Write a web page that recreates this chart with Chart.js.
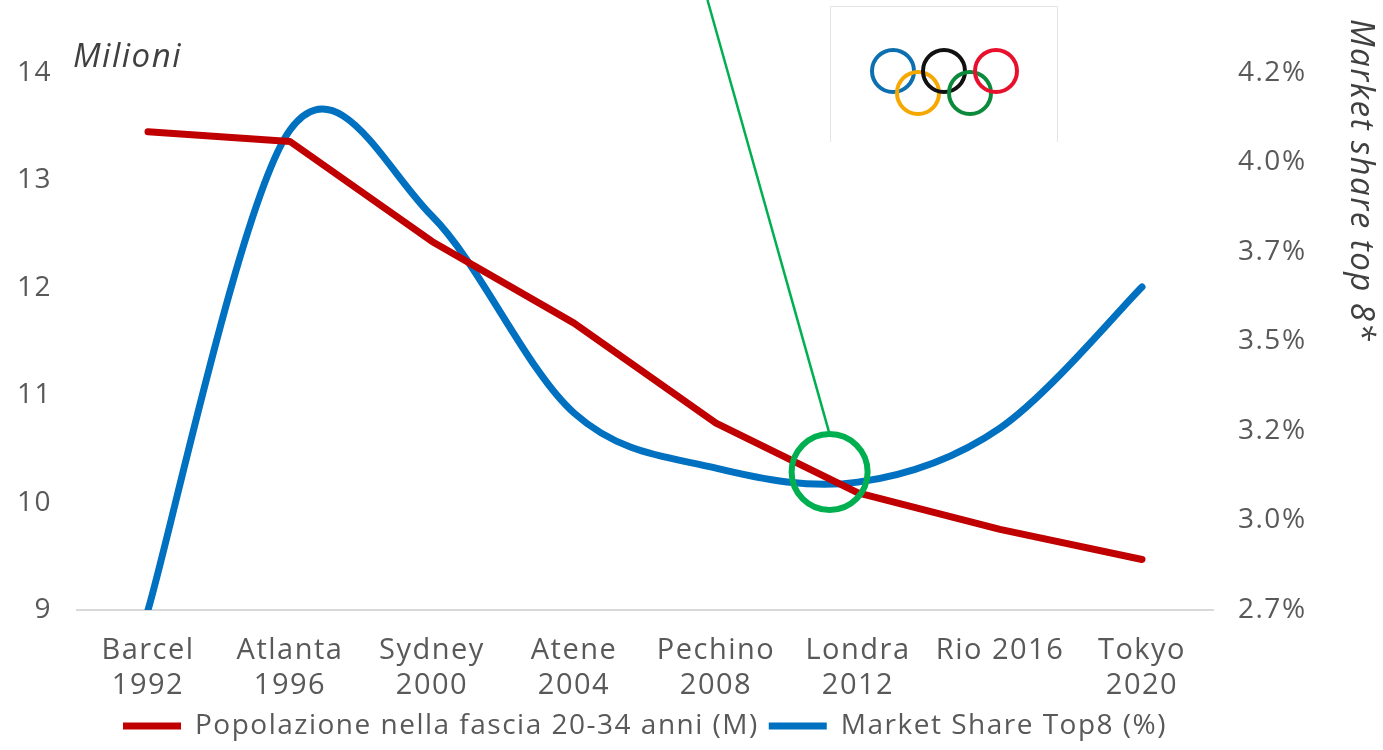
<!DOCTYPE html>
<html><head><meta charset="utf-8">
<script src="https://cdn.jsdelivr.net/npm/chart.js@4.4.1/dist/chart.umd.min.js"></script>
<style>html,body{margin:0;padding:0;background:#fff;overflow:hidden}#wrap{width:1383px;height:750px;position:relative}</style>
</head><body><div id="wrap"><canvas id="c" width="1383" height="750"></canvas></div>
<script>
const categories = [['Barcel','1992'],['Atlanta','1996'],['Sydney','2000'],['Atene','2004'],['Pechino','2008'],['Londra','2012'],'Rio 2016',['Tokyo','2020']];
const popolazione = [13.45, 13.36, 12.43, 11.67, 10.74, 10.09, 9.75, 9.47];
const marketShare = [2.75, 4.09, 3.85, 3.30, 3.146, 3.107, 3.258, 3.652];
const leftTicks = [9, 10, 11, 12, 13, 14];
const rightTickValues = [2.75, 3.0, 3.25, 3.5, 3.75, 4.0, 4.25];
const rightTickLabels = ['2.7%', '3.0%', '3.2%', '3.5%', '3.7%', '4.0%', '4.2%'];
const seriesNames = ['Popolazione nella fascia 20-34 anni (M)', 'Market Share Top8 (%)'];
const highlight = {index: 4.8, value: 3.135, lineTopIndex: 3.94};

const FONT = "'Open Sans', sans-serif";
const TXT = '#595959';
const SPACING = '1.5px';

const spacingPlugin = {
  id: 'spacing',
  beforeUpdate(chart) { chart.ctx.letterSpacing = SPACING; },
  beforeDraw(chart) { chart.ctx.letterSpacing = SPACING; }
};

// Excel-style smoothing: Catmull-Rom control points on the library's own point positions
const excelSmooth = {
  id: 'excelSmooth',
  beforeDatasetDraw(chart, args) {
    const ds = chart.data.datasets[args.index];
    if (!ds.smoothExcel) return;
    const meta = args.meta;
    const line = meta.dataset;
    line.updateControlPoints(chart.chartArea, 'x');
    const pts = meta.data, n = pts.length;
    for (let i = 0; i < n; i++) {
      const p = pts[i];
      const prev = pts[Math.max(i - 1, 0)], next = pts[Math.min(i + 1, n - 1)];
      const tx = (next.x - prev.x) / 6, ty = (next.y - prev.y) / 6;
      p.cp1x = p.x - tx; p.cp1y = p.y - ty; p.cp2x = p.x + tx; p.cp2y = p.y + ty;
    }
    line._path = undefined;
  }
};

const decor = {
  id: 'decor',
  afterDatasetsDraw(chart) {
    const ctx = chart.ctx;
    const xs = chart.scales.x, yr = chart.scales.y1;
    ctx.save();
    ctx.font = "italic 33px " + FONT;
    ctx.fillStyle = '#404040';
    ctx.textBaseline = 'alphabetic';
    ctx.fillText('Milioni', 73, 67);
    ctx.fillStyle = '#fff';
    ctx.fillRect(830, 6, 228, 136);
    ctx.strokeStyle = '#e4e4e4';
    ctx.lineWidth = 1;
    ctx.beginPath();
    ctx.moveTo(830.5, 142); ctx.lineTo(830.5, 6.5); ctx.lineTo(1057.5, 6.5); ctx.lineTo(1057.5, 142);
    ctx.stroke();
    const rings = [[893, 71, '#0b6fb0'], [918, 93, '#f6a800'], [944, 71, '#111111'], [970, 93, '#0a8a3a'], [996, 71, '#e8112d']];
    ctx.lineWidth = 4;
    rings.forEach(([cx, cy, c]) => { ctx.strokeStyle = c; ctx.beginPath(); ctx.arc(cx, cy, 21, 0, Math.PI * 2); ctx.stroke(); });
    const cx = xs.getPixelForValue(highlight.index);
    const cy = yr.getPixelForValue(highlight.value);
    const r = 38;
    ctx.strokeStyle = '#00B050';
    ctx.lineWidth = 2.5;
    ctx.beginPath();
    ctx.moveTo(cx, cy - r);
    ctx.lineTo(xs.getPixelForValue(highlight.lineTopIndex), 0);
    ctx.stroke();
    ctx.lineWidth = 6;
    ctx.beginPath();
    ctx.arc(cx, cy, r, 0, Math.PI * 2);
    ctx.stroke();
    ctx.restore();
  }
};

new Chart(document.getElementById('c'), {
  type: 'line',
  data: {
    labels: categories,
    datasets: [
      {label: seriesNames[0], data: popolazione, yAxisID: 'y', borderColor: '#C00000', backgroundColor: '#C00000', borderWidth: 7, tension: 0, pointRadius: 0, borderCapStyle: 'round', borderJoinStyle: 'round'},
      {label: seriesNames[1], data: marketShare, yAxisID: 'y1', borderColor: '#0070C0', backgroundColor: '#0070C0', borderWidth: 7, tension: 0.4, smoothExcel: true, clip: 0, pointRadius: 0, borderCapStyle: 'round', borderJoinStyle: 'round'}
    ]
  },
  options: {
    responsive: false,
    devicePixelRatio: 1,
    animation: false,
    layout: {padding: {top: 19, left: 0, right: 0, bottom: 0}},
    plugins: {
      tooltip: {enabled: false},
      legend: {
        position: 'bottom',
        fullSize: false,
        labels: {
          usePointStyle: true, pointStyle: 'line', pointStyleWidth: 58, boxWidth: 58,
          color: TXT, font: {family: FONT, size: 28}, padding: 10
        }
      }
    },
    scales: {
      x: {
        offset: true,
        grid: {display: false, drawTicks: false},
        border: {display: true, color: '#D9D9D9', width: 2},
        ticks: {color: TXT, font: {family: FONT, size: 29, lineHeight: 1.22}, padding: 23, maxRotation: 0, autoSkip: false},
        afterFit(s) { s.height = 92; }
      },
      y: {
        position: 'left', min: 9, max: 14.5,
        grid: {display: false, drawTicks: false},
        border: {display: false},
        ticks: {color: TXT, font: {family: FONT, size: 28}, padding: 25},
        afterBuildTicks(s) { s.ticks = leftTicks.map(v => ({value: v})); },
        afterFit(s) { s.width = 77; s.paddingTop = 0; s.paddingBottom = 0; }
      },
      y1: {
        position: 'right', min: 2.75, max: 4.4,
        grid: {display: false, drawTicks: false},
        border: {display: false},
        ticks: {color: TXT, font: {family: FONT, size: 28}, padding: 25,
          callback(v) { const i = rightTickValues.findIndex(t => Math.abs(t - v) < 1e-6); return i >= 0 ? rightTickLabels[i] : ''; }},
        afterBuildTicks(s) { s.ticks = rightTickValues.map(v => ({value: v})); },
        title: {display: true, text: 'Market share top 8*', align: 'end', color: '#404040', font: {family: FONT, size: 33, style: 'italic'}, padding: {top: 3, bottom: 0}},
        afterFit(s) { s.width = 170; s.paddingTop = 0; s.paddingBottom = 0; }
      }
    }
  },
  plugins: [spacingPlugin, excelSmooth, decor]
});
</script></body></html>
